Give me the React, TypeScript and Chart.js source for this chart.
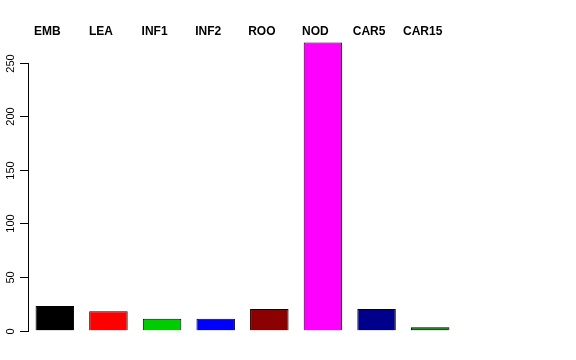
import React, { useEffect, useRef } from "react";
import { Chart, registerables } from "chart.js";

Chart.register(...registerables);

const categories = ["EMB", "LEA", "INF1", "INF2", "ROO", "NOD", "CAR5", "CAR15"];
const values = [23, 18, 11, 11, 20, 269, 20, 3];
const barColors = ["#000000", "#FF0000", "#00CD00", "#0000FF", "#8B0000", "#FF00FF", "#00008B", "#006400"];
const yTicks = [0, 50, 100, 150, 200, 250];

const axisLinePlugin = {
  id: "rAxisLine",
  afterDraw(chart: any) {
    const y = chart.scales.y;
    const ctx = chart.ctx;
    const x = Math.round(y.right);
    ctx.save();
    ctx.fillStyle = "#000";
    const top = Math.round(y.getPixelForValue(yTicks[yTicks.length - 1]));
    const bot = Math.round(y.getPixelForValue(yTicks[0]));
    ctx.fillRect(x, top, 1, bot - top + 1);
    for (const v of yTicks) {
      const py = Math.round(y.getPixelForValue(v));
      ctx.fillRect(x - 8, py, 8, 1);
    }
    ctx.font = "11px 'Liberation Sans'";
    ctx.textAlign = "center";
    ctx.textBaseline = "middle";
    for (const v of yTicks) {
      const py = Math.round(y.getPixelForValue(v));
      ctx.save();
      ctx.translate(11, py + 0.5);
      ctx.rotate(-Math.PI / 2);
      ctx.fillText(String(v), 0, 0);
      ctx.restore();
    }
    ctx.restore();
  },
};

export default function App() {
  const ref = useRef<HTMLCanvasElement>(null);
  useEffect(() => {
    if (!ref.current) return;
    const chart = new Chart(ref.current, {
      type: "bar",
      data: {
        labels: categories,
        datasets: [
          {
            data: values,
            backgroundColor: barColors,
            borderColor: "#000",
            borderWidth: 1,
            barPercentage: 0.718,
            categoryPercentage: 1,
          },
        ],
      },
      options: {
        animation: false,
        responsive: false,
        maintainAspectRatio: false,
        layout: { padding: { left: 0, right: 119, top: 0, bottom: 29.5 } },
        plugins: { legend: { display: false }, tooltip: { enabled: false } },
        scales: {
          x: {
            position: "top",
            grid: { display: false },
            border: { display: false },
            ticks: {
              color: "#000",
              font: { family: "Liberation Sans", size: 12, weight: "bold" },
              labelOffset: -7.5,
              padding: -5,
              maxRotation: 0,
              minRotation: 0,
              autoSkip: false,
            },
            afterFit: (s: any) => {
              s.height = 41.5;
            },
          },
          y: {
            min: 0,
            max: 270,
            grid: { display: false },
            border: { display: false },
            ticks: {
              display: false,
              autoSkip: false,
            },
            afterBuildTicks: (s: any) => {
              s.ticks = yTicks.map((v) => ({ value: v }));
            },
            afterFit: (s: any) => {
              s.width = 28;
            },
          },
        },
      },
      plugins: [axisLinePlugin],
    });
    return () => chart.destroy();
  }, []);
  return (
    <div style={{ position: "fixed", left: 0, top: 0, width: 576, height: 360, background: "#fff" }}>
      <canvas ref={ref} width={576} height={360} style={{ width: 576, height: 360 }} />
    </div>
  );
}
